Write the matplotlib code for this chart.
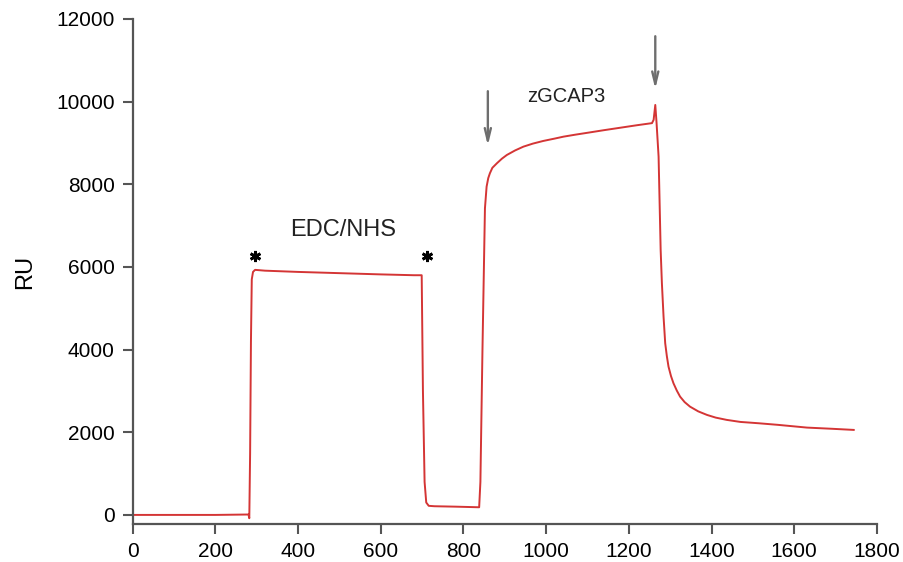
import matplotlib.pyplot as plt

plt.rcParams['font.family'] = ['Liberation Sans', 'DejaVu Sans']

# sensorgram (time in s, response in RU)
time_s = [0, 100, 200, 280, 282, 284, 286, 288, 291, 296, 320, 400, 500, 600, 680, 699,
          702, 706, 710, 716, 730, 780, 838, 841, 846, 852, 856, 860, 864, 870, 881,
          893, 905, 925, 945, 968, 993, 1020, 1042, 1070, 1102, 1140, 1180, 1220,
          1256, 1260, 1264, 1267, 1272, 1277, 1280, 1284, 1288, 1292, 1296, 1302,
          1308, 1316, 1324, 1335, 1348, 1368, 1389, 1410, 1437, 1470, 1514, 1560,
          1631, 1690, 1744]
ru = [0, 0, 0, 10, -80, 1500, 4200, 5700, 5880, 5930, 5910, 5880, 5850, 5820, 5800, 5800,
      3000, 800, 300, 220, 210, 200, 185, 800, 4000, 7420, 7944, 8150, 8268, 8400, 8510,
      8620, 8710, 8820, 8911, 8985, 9049, 9105, 9153, 9200, 9250, 9310, 9370, 9430,
      9480, 9560, 9920, 9500, 8670, 6412, 5606, 4798, 4154, 3840, 3588, 3360,
      3186, 3010, 2862, 2730, 2620, 2505, 2420, 2355, 2299, 2250, 2218, 2180,
      2113, 2085, 2057]

xticks = [0, 200, 400, 600, 800, 1000, 1200, 1400, 1600, 1800]
yticks = [0, 2000, 4000, 6000, 8000, 10000, 12000]

# annotation anchors
star_t = [296, 712]
star_ru = [6270, 6270]
arrow_t = [859, 1264]
arrow_top = [10320, 11650]
arrow_tip = [8870, 10240]

fig = plt.figure(figsize=(9.04, 5.62), dpi=100)
ax = fig.add_axes([0.1468, 0.0676, 0.8232, 0.8986])

ax.plot(time_s, ru, color='#d43535', lw=1.4, solid_joinstyle='round')

ax.plot(star_t, star_ru, ls='none', marker=(6, 2, 0), ms=8, mew=2, color='black')

for t, top, tip in zip(arrow_t, arrow_top, arrow_tip):
    ax.annotate('', xy=(t, tip), xytext=(t, top),
                arrowprops=dict(arrowstyle='->,head_length=0.9,head_width=0.22',
                                color='#6e6e6e', lw=1.7))

ax.text(510, 6900, 'EDC/NHS', fontsize=17, ha='center', va='center', color='#222222')
ax.text(1048, 10120, 'zGCAP3', fontsize=14.5, ha='center', va='center', color='#222222')

ax.set_xlim(0, 1800)
ax.set_ylim(-220, 12000)
ax.set_xticks(xticks)
ax.set_yticks(yticks)
ax.tick_params(labelsize=15, length=7, width=1.5, color='#555555', pad=6)
ax.set_ylabel('RU', fontsize=17, labelpad=14)

for side in ['top', 'right']:
    ax.spines[side].set_visible(False)
for side in ['left', 'bottom']:
    ax.spines[side].set_color('#555555')
    ax.spines[side].set_linewidth(1.6)

plt.savefig('out.png', dpi=100)
